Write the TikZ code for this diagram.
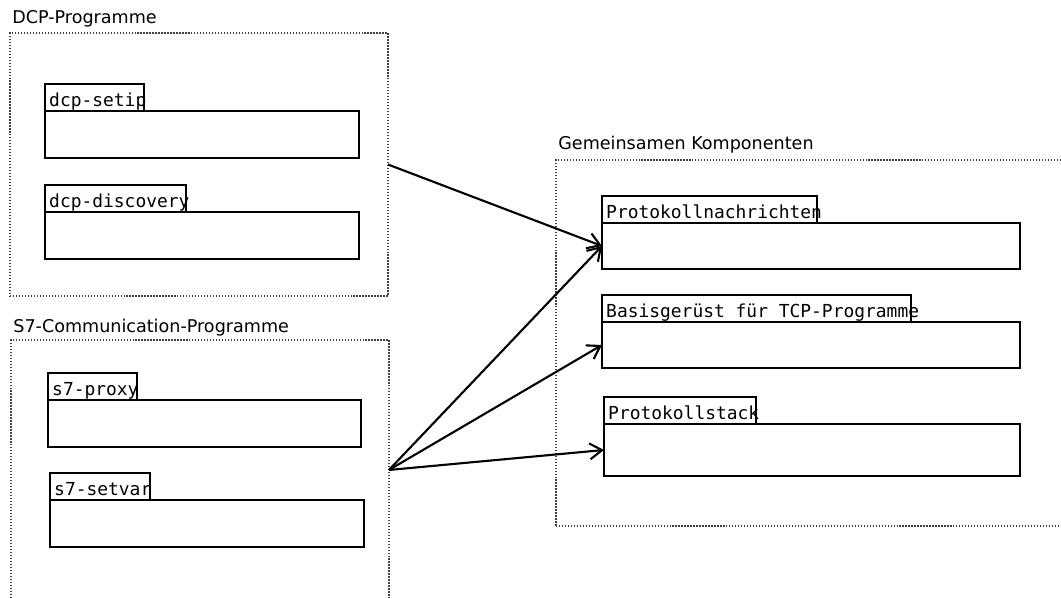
\documentclass[tikz,border=0pt]{standalone}
\usepackage{fontspec}
\setmainfont{DejaVu Sans}
\setmonofont{DejaVu Sans Mono}
\usetikzlibrary{positioning, arrows.meta}
\tikzstyle{group} =
[rectangle, minimum width = 7.56cm, minimum height = 5.26cm, inner sep = 0,
outer sep = 0, anchor = north west, draw=black!75, densely dotted, line width = 0.7pt]
\tikzstyle{grouptitle} =
[anchor = base west, inner sep = 0, font = \fontsize{10}{12}\selectfont]
\tikzstyle{tab} =
[rectangle, minimum height = 0.54cm, inner sep = 0, outer sep = 0,
anchor = north west, draw=black, line width = 1.3pt]
\tikzstyle{comp} =
[rectangle, minimum width = 6.28cm, minimum height = 0.94cm, inner sep = 0,
outer sep = 0, draw=black, line width = 1.3pt]
\tikzstyle{tabtext} =
[anchor = base west, inner sep = 0, xshift = 2.2pt, yshift = 2.6pt,
font = \ttfamily\fontsize{10.2}{12}\selectfont]
\tikzstyle{line} = [draw, line width = 1.2pt, -{Straight Barb[length=7pt, width=9pt]}]

\begin{document}
\begin{tikzpicture}[x = 0.02cm, y = -0.02cm]
  \clip (0,0) rectangle (1061,598);
  % groups
  \node [grouptitle] (dcptitle) at (12,24) {DCP-Programme};
  \node [group] (dcp) at (10,33) {};
  \node [grouptitle] (s7title) at (13,332) {S7-Communication-Programme};
  \node [group, minimum height = 5.2cm] (s7) at (11,340) {};
  \node [grouptitle] (commontitle) at (558,150) {Gemeinsamen Komponenten};
  \node [group, minimum width = 10.8cm, minimum height = 7.32cm] (common) at (556,160) {};
  %
  % DCP components
  \node [tab, minimum width = 1.98cm] (setiptab) at (45,84) {};
  \node [comp, below right = 0cm and 0cm of setiptab.south west] (setip) {};
  \node [tabtext] (setiptext) at (setiptab.south west) {dcp-setip};
  \node [tab, minimum width = 2.82cm] (discoverytab) at (45,185) {};
  \node [comp, below right = 0cm and 0cm of discoverytab.south west] (discovery) {};
  \node [tabtext] (discoverytext) at (discoverytab.south west) {dcp-discovery};
  %
  % S7 components
  \node [tab, minimum width = 1.78cm] (proxytab) at (48,373) {};
  \node [comp, minimum width = 6.26cm, below right = 0cm and 0cm of proxytab.south west] (proxy) {};
  \node [tabtext] (proxytext) at (proxytab.south west) {s7-proxy};
  \node [tab, minimum width = 2cm] (setvartab) at (50,473) {};
  \node [comp, below right = 0cm and 0cm of setvartab.south west] (setvar) {};
  \node [tabtext] (setvartext) at (setvartab.south west) {s7-setvar};
  %
  % common components
  \node [tab, minimum width = 4.3cm] (msgtab) at (602,196) {};
  \node [comp, minimum width = 8.36cm, minimum height = 0.92cm,
    below right = 0cm and 0cm of msgtab.south west] (msg) {};
  \node [tabtext] (msgtext) at (msgtab.south west) {Protokollnachrichten};
  \node [tab, minimum width = 6.18cm] (basetab) at (602,295) {};
  \node [comp, minimum width = 8.36cm, minimum height = 0.92cm,
    below right = 0cm and 0cm of basetab.south west] (base) {};
  \node [tabtext] (basetext) at (basetab.south west) {Basisgerüst für TCP-Programme};
  \node [tab, minimum width = 3.04cm] (stacktab) at (604,397) {};
  \node [comp, minimum width = 8.32cm, minimum height = 1.04cm,
    below right = 0cm and 0cm of stacktab.south west] (stack) {};
  \node [tabtext] (stacktext) at (stacktab.south west) {Protokollstack};
  %
  % edges
  \path [line] (dcp.east) -- (msg.west);
  \path [line] (s7.east) -- (msg.west);
  \path [line] (s7.east) -- (base.west);
  \path [line] (s7.east) -- (stack.west);
\end{tikzpicture}
\end{document}
